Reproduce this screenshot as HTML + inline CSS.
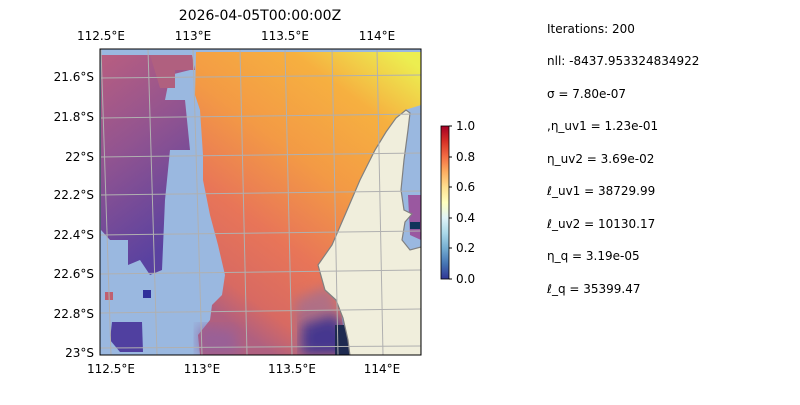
<!DOCTYPE html>
<html><head><style>
body{margin:0;background:#fff;width:800px;height:400px;overflow:hidden}
</style></head><body>
<svg width="800" height="400" xmlns="http://www.w3.org/2000/svg" font-family="DejaVu Sans, Liberation Sans, sans-serif">
<defs>
<linearGradient id="cb" x1="0" y1="1" x2="0" y2="0">
<stop offset="0" stop-color="#313695"/><stop offset="0.1" stop-color="#4575b4"/><stop offset="0.2" stop-color="#74add1"/><stop offset="0.3" stop-color="#abd9e9"/><stop offset="0.4" stop-color="#e0f3f8"/><stop offset="0.5" stop-color="#ffffbf"/><stop offset="0.6" stop-color="#fee090"/><stop offset="0.7" stop-color="#fdae61"/><stop offset="0.8" stop-color="#f46d43"/><stop offset="0.9" stop-color="#d73027"/><stop offset="1" stop-color="#a50026"/>
</linearGradient>
<linearGradient id="main" x1="0.9" y1="0" x2="0.35" y2="1">
<stop offset="0" stop-color="#ecee50"/><stop offset="0.2" stop-color="#f6b040"/><stop offset="0.45" stop-color="#f39a45"/><stop offset="0.7" stop-color="#e87558"/><stop offset="0.9" stop-color="#d86a62"/><stop offset="1" stop-color="#b06080"/>
</linearGradient>
<linearGradient id="left" x1="0" y1="0" x2="0.3" y2="1">
<stop offset="0" stop-color="#b85e80"/><stop offset="0.45" stop-color="#925490"/><stop offset="1" stop-color="#5a42a0"/>
</linearGradient>
<filter id="bl"><feGaussianBlur stdDeviation="6"/></filter>
<clipPath id="mc"><rect x="100" y="49" width="321" height="306"/></clipPath>
</defs>
<text x="260" y="20" font-size="14" text-anchor="middle">2026-04-05T00:00:00Z</text>
<g clip-path="url(#mc)">
<rect x="100" y="49" width="321" height="306" fill="#9ab8e0"/>
<polygon fill="url(#left)" points="101,55 190,55 190,70 170,75 165,100 185,100 190,150 170,150 165,200 162,270 150,275 140,260 128,265 128,240 110,240 101,230"/>
<polygon fill="#b0607f" points="150,55 192,55 195,70 175,70 175,88 160,88"/>
<g>
<polygon fill="url(#main)" points="196,52 421,52 421,105 405,110 378,145 362,180 345,215 330,250 318,265 325,290 340,305 345,340 350,355 200,355 198,335 210,320 212,305 222,295 225,275 218,245 210,215 203,180 203,155 200,110 195,95"/>
<polygon fill="#9070a0" opacity="0.6" filter="url(#bl)" points="295,300 330,285 345,330 345,355 295,355"/>
<polygon fill="#3a3090" opacity="0.9" filter="url(#bl)" points="302,325 335,315 350,340 348,355 302,355"/>
<polygon fill="#9060a0" opacity="0.7" filter="url(#bl)" points="198,325 235,330 240,355 198,355"/>
<rect x="335" y="325" width="15" height="30" fill="#1e2a50"/>
</g>
<polygon fill="#9a58a0" points="408,195 421,195 421,240 410,235"/>
<rect x="410" y="222" width="10" height="7" fill="#12345a"/>
<rect x="143" y="290" width="8" height="8" fill="#30309a"/>
<rect x="105" y="292" width="8" height="8" fill="#c06070"/>
<polygon fill="#5040a0" points="112,322 142,322 143,352 120,352 110,340"/>
<polygon fill="#f0eedc" stroke="#808080" stroke-width="1.2" points="406,110 396,118 386,132 375,150 360,180 345,215 332,245 318,265 325,290 336,300 343,318 348,340 350,356 421,356 421,247 410,250 402,240 405,222 412,214 404,210 401,190 404,160 408,130 410,113"/>
<g stroke="#b0b0b0" stroke-width="1" fill="none">
<line x1="101" y1="49" x2="111" y2="355"/><line x1="148" y1="49" x2="157" y2="355"/><line x1="193" y1="49" x2="202" y2="355"/><line x1="240" y1="49" x2="247" y2="355"/><line x1="285" y1="49" x2="292" y2="355"/><line x1="332" y1="49" x2="338" y2="355"/><line x1="377" y1="49" x2="383" y2="355"/>
<line x1="100" y1="78" x2="421" y2="75"/><line x1="100" y1="118" x2="421" y2="114"/><line x1="100" y1="157" x2="421" y2="153"/><line x1="100" y1="195" x2="421" y2="191"/><line x1="100" y1="235" x2="421" y2="231"/><line x1="100" y1="274" x2="421" y2="270"/><line x1="100" y1="313" x2="421" y2="309"/><line x1="100" y1="348" x2="421" y2="346"/>
</g>
</g>
<rect x="100" y="49" width="321" height="306" fill="none" stroke="#000" stroke-width="1"/>
<g font-size="12" fill="#000">
<text x="101" y="40" text-anchor="middle">112.5°E</text><text x="193" y="40" text-anchor="middle">113°E</text><text x="285" y="40" text-anchor="middle">113.5°E</text><text x="377" y="40" text-anchor="middle">114°E</text>
<text x="111" y="373" text-anchor="middle">112.5°E</text><text x="202" y="373" text-anchor="middle">113°E</text><text x="292" y="373" text-anchor="middle">113.5°E</text><text x="382" y="373" text-anchor="middle">114°E</text>
<g text-anchor="end"><text x="94" y="81">21.6°S</text><text x="94" y="121">21.8°S</text><text x="94" y="161">22°S</text><text x="94" y="199">22.2°S</text><text x="94" y="239">22.4°S</text><text x="94" y="278">22.6°S</text><text x="94" y="318">22.8°S</text><text x="94" y="357">23°S</text></g>
</g>
<rect x="441" y="126" width="8" height="153" fill="url(#cb)" stroke="#000" stroke-width="0.8"/>
<g font-size="12"><text x="456" y="130">1.0</text><text x="456" y="161">0.8</text><text x="456" y="191">0.6</text><text x="456" y="222">0.4</text><text x="456" y="252">0.2</text><text x="456" y="283">0.0</text></g>
<g stroke="#000"><line x1="449" y1="126" x2="452" y2="126"/><line x1="449" y1="157" x2="452" y2="157"/><line x1="449" y1="187" x2="452" y2="187"/><line x1="449" y1="218" x2="452" y2="218"/><line x1="449" y1="248" x2="452" y2="248"/><line x1="449" y1="279" x2="452" y2="279"/></g>
<g font-size="12"><text x="547" y="33">Iterations: 200</text><text x="547" y="65">nll: -8437.953324834922</text><text x="547" y="98">σ = 7.80e-07</text><text x="547" y="130">,η_uv1 = 1.23e-01</text><text x="547" y="163">η_uv2 = 3.69e-02</text><text x="547" y="195">ℓ_uv1 = 38729.99</text><text x="547" y="228">ℓ_uv2 = 10130.17</text><text x="547" y="260">η_q = 3.19e-05</text><text x="547" y="293">ℓ_q = 35399.47</text></g>
</svg>
</body></html>
